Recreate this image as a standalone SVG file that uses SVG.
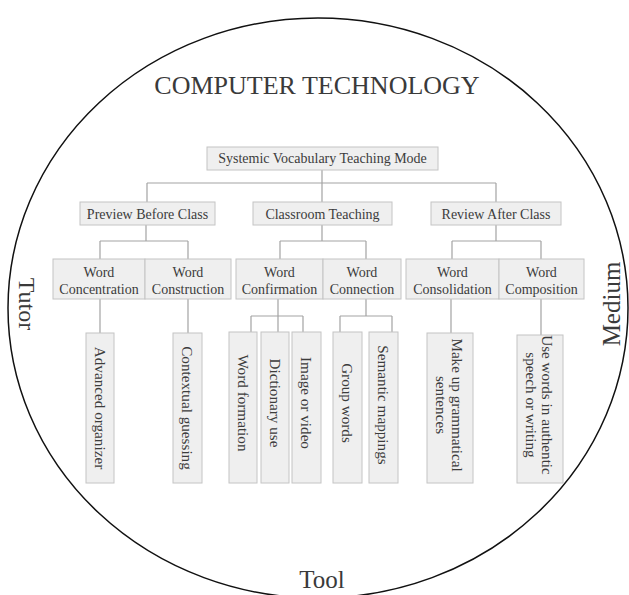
<svg xmlns="http://www.w3.org/2000/svg" width="629" height="595" viewBox="0 0 629 595">
<style>
.bx{fill:#efefef;stroke:#c4c4c4;stroke-width:1}
.t{font-family:"Liberation Serif","Times New Roman",serif;fill:#3c3c3c;font-size:14px;text-anchor:middle}
.v{font-family:"Liberation Serif","Times New Roman",serif;fill:#3c3c3c;font-size:15.2px;text-anchor:middle;dominant-baseline:central}
.big{font-family:"Liberation Serif","Times New Roman",serif;fill:#3a3a3a;text-anchor:middle}
.ln{fill:none;stroke:#a3a3a3;stroke-width:1.2}
</style>
<rect width="629" height="595" fill="#ffffff"/>
<ellipse cx="318" cy="308" rx="310" ry="290" fill="none" stroke="#111" stroke-width="1.5"/>
<text class="big" x="317" y="94" font-size="26">COMPUTER TECHNOLOGY</text>
<text class="big" font-size="24" transform="translate(19,304) rotate(90)" x="0" y="0">Tutor</text>
<text class="big" font-size="25" transform="translate(620,304) rotate(-90)" x="0" y="0">Medium</text>
<text class="big" x="322" y="588" font-size="25">Tool</text>
<g id="connectors">
<path class="ln" d="M322,170V183M147,183H496M147,183V202M322,183V202M496,183V202"/>
<path class="ln" d="M146,225V241M100,241H188M100,241V259M188,241V259"/>
<path class="ln" d="M322,225V241M280,241H366M280,241V259M366,241V259"/>
<path class="ln" d="M496,225V241M452,241H541M452,241V259M541,241V259"/>
<path class="ln" d="M100,299V333M188,299V333"/>
<path class="ln" d="M278,299V332M251,316H303M251,316V332M303,316V332"/>
<path class="ln" d="M366,299V316M340,316H392M340,316V332M392,316V332"/>
<path class="ln" d="M451,299V333M541,299V335"/>
</g>
<g id="n-root"><rect class="bx" x="207" y="147" width="231" height="23"/><text class="t" x="322.5" y="163">Systemic Vocabulary Teaching Mode</text></g>
<g id="n-preview"><rect class="bx" x="80" y="202" width="135" height="23"/><text class="t" x="147.5" y="218.5">Preview Before Class</text></g>
<g id="n-classroom"><rect class="bx" x="253" y="202" width="139" height="23"/><text class="t" x="322.5" y="218.5">Classroom Teaching</text></g>
<g id="n-review"><rect class="bx" x="431" y="202" width="130" height="23"/><text class="t" x="496" y="218.5">Review After Class</text></g>
<g id="n-concentration"><rect class="bx" x="53" y="259" width="92" height="40"/><text class="t" x="99" y="277">Word</text><text class="t" x="99" y="294">Concentration</text></g>
<g id="n-construction"><rect class="bx" x="145" y="259" width="86" height="40"/><text class="t" x="188" y="277">Word</text><text class="t" x="188" y="294">Construction</text></g>
<g id="n-confirmation"><rect class="bx" x="236" y="259" width="87" height="40"/><text class="t" x="279.5" y="277">Word</text><text class="t" x="279.5" y="294">Confirmation</text></g>
<g id="n-connection"><rect class="bx" x="323" y="259" width="78" height="40"/><text class="t" x="362" y="277">Word</text><text class="t" x="362" y="294">Connection</text></g>
<g id="n-consolidation"><rect class="bx" x="406" y="259" width="93" height="40"/><text class="t" x="452.5" y="277">Word</text><text class="t" x="452.5" y="294">Consolidation</text></g>
<g id="n-composition"><rect class="bx" x="499" y="259" width="85" height="40"/><text class="t" x="541.5" y="277">Word</text><text class="t" x="541.5" y="294">Composition</text></g>
<g id="n-advanced"><rect class="bx" x="86" y="333" width="28" height="150"/><text class="v" transform="translate(100,408) rotate(90)">Advanced organizer</text></g>
<g id="n-contextual"><rect class="bx" x="173" y="333" width="29" height="150"/><text class="v" transform="translate(187.5,408) rotate(90)">Contextual guessing</text></g>
<g id="n-formation"><rect class="bx" x="229" y="332" width="28" height="151"/><text class="v" transform="translate(243,403) rotate(90)">Word formation</text></g>
<g id="n-dictionary"><rect class="bx" x="261" y="332" width="28" height="151"/><text class="v" transform="translate(275,403) rotate(90)">Dictionary use</text></g>
<g id="n-image"><rect class="bx" x="292" y="332" width="29" height="151"/><text class="v" transform="translate(306.5,403) rotate(90)">Image or video</text></g>
<g id="n-group"><rect class="bx" x="333" y="332" width="29" height="151"/><text class="v" transform="translate(347.5,403) rotate(90)">Group words</text></g>
<g id="n-semantic"><rect class="bx" x="369" y="332" width="29" height="151"/><text class="v" transform="translate(383.5,405) rotate(90)">Semantic mappings</text></g>
<g id="n-makeup"><rect class="bx" x="427" y="333" width="46" height="150"/><text class="v" transform="translate(450,405) rotate(90)"><tspan x="0" y="-8">Make up grammatical</tspan><tspan x="0" y="8">sentences</tspan></text></g>
<g id="n-usewords"><rect class="bx" x="517" y="335" width="46" height="148"/><text class="v" transform="translate(540,405) rotate(90)"><tspan x="0" y="-8">Use words in authentic</tspan><tspan x="0" y="8">speech or writing</tspan></text></g>
</svg>
